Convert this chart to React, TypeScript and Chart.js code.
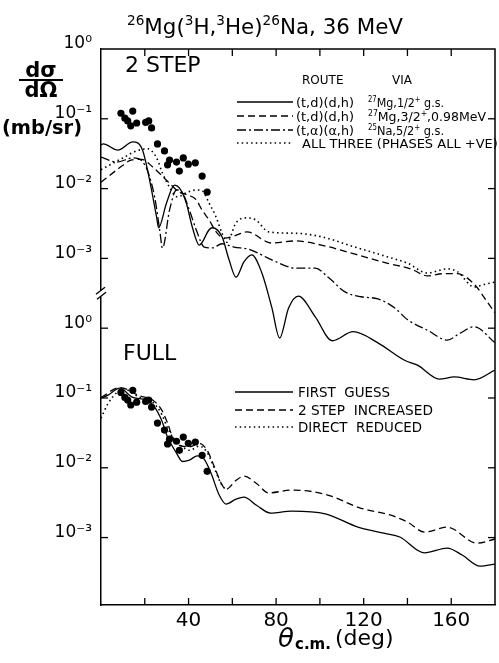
import React, { useEffect, useRef } from "react";
import { Chart, registerables } from "chart.js";

Chart.register(...registerables);

// ---------- experimental data (same points shown in both panels) ----------
const expAngle = [9.1, 10.9, 12.2, 13.6, 14.5, 16.3, 20.4, 21.8, 23.1, 25.8, 29.0, 30.4, 31.3, 34.5, 35.8, 37.6, 39.9, 43.1, 46.2, 48.5];
const expSigma = [0.12, 0.102, 0.0933, 0.0794, 0.129, 0.0871, 0.0891, 0.0933, 0.0741, 0.0437, 0.0347, 0.0219, 0.0257, 0.024, 0.0178, 0.0275, 0.0224, 0.0234, 0.0151, 0.00891];

// ---------- top panel "2 STEP" ----------
const gsAngle = [0, 1, 7.7, 14.5, 19, 22.2, 25.4, 26.3, 29.9, 33.6, 35.8, 39, 41.7, 44.9, 49.4, 50.8, 55.3, 58.5, 61.7, 65.3, 68.9, 73.5, 78, 81.6, 85.7, 90.2, 97.9, 105.6, 115.2, 126.5, 138.7, 144.6, 154.6, 161.4, 170.5, 180];
const gsSigma = [0.0422, 0.0437, 0.0355, 0.0468, 0.0355, 0.0132, 0.00389, 0.00275, 0.00617, 0.0112, 0.0102, 0.00617, 0.00282, 0.00155, 0.00257, 0.00275, 0.00204, 0.000955, 0.000537, 0.000891, 0.00112, 0.000617, 0.0002, 0.0000724, 0.000195, 0.000288, 0.000145, 0.0000661, 0.0000891, 0.0000617, 0.0000347, 0.0000295, 0.0000186, 0.00002, 0.0000182, 0.0000251];

const exAngle = [0, 7.3, 14.1, 18.6, 23.6, 29.9, 35.8, 40.4, 43.5, 46.2, 49.4, 52.6, 56.2, 60.8, 66.7, 78, 88.9, 100.7, 116.1, 131, 141.5, 149.2, 156, 162.8, 170.5, 176.4, 180];
const exSigma = [0.0123, 0.0186, 0.0257, 0.0263, 0.0204, 0.0132, 0.00891, 0.00794, 0.00692, 0.0049, 0.00355, 0.0024, 0.00195, 0.00209, 0.0024, 0.00166, 0.00178, 0.00155, 0.00115, 0.000851, 0.000708, 0.000562, 0.000603, 0.000603, 0.000427, 0.00024, 0.000166];

const naAngle = [0, 7.3, 14.5, 20, 24.5, 26.8, 28.1, 31.3, 34.5, 37.2, 40.4, 43.5, 47.2, 50.8, 55.3, 60.8, 67.6, 78, 88.9, 97.9, 103.8, 111.5, 118.8, 126.5, 134.2, 140.1, 149.2, 158.2, 164.1, 170.5, 180];
const naSigma = [0.0282, 0.024, 0.0275, 0.0219, 0.00759, 0.00257, 0.00141, 0.0049, 0.00955, 0.00871, 0.0049, 0.00257, 0.00145, 0.00141, 0.00162, 0.00145, 0.00135, 0.000955, 0.000724, 0.000724, 0.000537, 0.000331, 0.000282, 0.000263, 0.000195, 0.000132, 0.0000933, 0.0000676, 0.0000851, 0.000105, 0.0000617];

const allAngle = [0, 1.8, 10, 16.3, 21.3, 25.4, 28.1, 31.3, 34.9, 39, 43.5, 46.2, 49.4, 52.6, 55.3, 57.6, 61.7, 66.2, 70.7, 76.6, 88.9, 100.7, 116.1, 131, 140.1, 149.2, 158.2, 162.8, 170.5, 175.5, 180];
const allSigma = [0.0186, 0.02, 0.0275, 0.0347, 0.0372, 0.0275, 0.0166, 0.0105, 0.00759, 0.00871, 0.00955, 0.00933, 0.00617, 0.00389, 0.00229, 0.0017, 0.00324, 0.0038, 0.00355, 0.0024, 0.00229, 0.00204, 0.00145, 0.00105, 0.000851, 0.000617, 0.000708, 0.000646, 0.000389, 0.000427, 0.000457];

// ---------- bottom panel "FULL" ----------
const fgAngle = [0, 3.2, 8.6, 14.5, 20.9, 24.5, 27.7, 30.4, 34.5, 37.2, 40.4, 44, 47.2, 50.3, 54, 57.1, 61.7, 65.3, 71.2, 77.5, 87.1, 102.5, 117.4, 129.7, 136.5, 147.8, 158.2, 165, 173.2, 180];
const fgSigma = [0.1, 0.11, 0.138, 0.102, 0.0933, 0.0741, 0.0479, 0.0275, 0.0162, 0.0123, 0.0129, 0.0148, 0.0132, 0.00832, 0.00407, 0.00302, 0.00355, 0.0038, 0.00288, 0.00224, 0.0024, 0.00219, 0.00141, 0.00115, 0.00102, 0.000603, 0.000708, 0.000562, 0.000389, 0.000417];

const tsAngle = [0, 8.6, 17.7, 23.6, 27.7, 30.4, 32.6, 35.8, 40.4, 44.9, 48.5, 51.7, 54.9, 57.1, 61.7, 65.3, 71.2, 76.6, 87.1, 102.5, 118.8, 132.4, 140.1, 147.8, 158.2, 171.8, 180];
const tsSigma = [0.102, 0.141, 0.107, 0.0933, 0.0676, 0.0437, 0.0282, 0.0209, 0.02, 0.0224, 0.0178, 0.0105, 0.00603, 0.0049, 0.00661, 0.00759, 0.00589, 0.00437, 0.00479, 0.00417, 0.00263, 0.00209, 0.00166, 0.0012, 0.00141, 0.000832, 0.000955];

const drAngle = [0, 3.2, 7.3, 9.9, 17.7, 23.6, 27.7, 30.4, 33.6, 37.2, 40.4, 44.9, 48.5, 51.7, 54.9, 57.1];
const drSigma = [0.0513, 0.0832, 0.12, 0.135, 0.102, 0.0871, 0.0589, 0.0372, 0.0251, 0.02, 0.0178, 0.0204, 0.0166, 0.01, 0.00589, 0.00479];

// ---------- ticks ----------
const xTickLabels = [40, 80, 120, 160];
const xTickMarks = [20, 40, 60, 80, 100, 120, 140, 160];
const yTickExponents = [0, -1, -2, -3];
const PANEL_SHIFT = 4; // decades between the two stacked panels

// ---------- styles ----------
const FONT = '"DejaVu Sans", sans-serif';
const SOLID: number[] = [];
const DASH = [7, 4];
const DASHDOT = [9, 3, 2, 3];
const DOT = [1.5, 3.2];

const SUP: Record<string, string> = { "0": "⁰", "1": "¹", "2": "²", "3": "³", "4": "⁴", "-": "⁻" };
const sup = (n: number) => String(n).split("").map((c) => SUP[c] || c).join("");

const zip = (a: number[], b: number[]) => a.map((x, i) => ({ x, y: b[i] }));

function drawRich(ctx: any, parts: [string, boolean][], x: number, y: number, size: number, align: string, weight = "normal", maxW?: number) {
  const sz = Math.round(size * 0.62);
  let w = 0;
  const widths: number[] = [];
  for (const [t, s] of parts) {
    ctx.font = `${weight} ${s ? sz : size}px ${FONT}`;
    const m = ctx.measureText(t).width;
    widths.push(m);
    w += m;
  }
  const scale = maxW && w > maxW ? maxW / w : 1;
  let cx = align === "center" ? x - (w * scale) / 2 : x;
  ctx.textAlign = "left";
  ctx.textBaseline = "alphabetic";
  parts.forEach(([t, s], i) => {
    ctx.font = `${weight} ${s ? sz : size}px ${FONT}`;
    ctx.fillText(t, cx, s ? y - size * 0.4 : y, widths[i] * scale);
    cx += widths[i] * scale;
  });
}

function line(ctx: any, x1: number, y1: number, x2: number, y2: number, dash: number[], lw = 1.3) {
  ctx.save();
  ctx.setLineDash(dash);
  ctx.lineWidth = lw;
  ctx.beginPath();
  ctx.moveTo(x1, y1);
  ctx.lineTo(x2, y2);
  ctx.stroke();
  ctx.restore();
}

const decor = {
  id: "decor",
  afterDraw(chart: any) {
    const { ctx, chartArea: a, scales } = chart;
    const xs = scales.x, ys = scales.y, ys2 = scales.y2;
    ctx.save();
    ctx.strokeStyle = "#000";
    ctx.fillStyle = "#000";
    // frame (top & right)
    ctx.lineWidth = 1.5;
    ctx.beginPath();
    ctx.moveTo(a.left, a.top);
    ctx.lineTo(a.right, a.top);
    ctx.lineTo(a.right, a.bottom);
    ctx.stroke();
    // inward x ticks
    ctx.lineWidth = 1.3;
    for (const v of xTickMarks) {
      const px = xs.getPixelForValue(v);
      line(ctx, px, a.top, px, a.top + 7, SOLID);
      line(ctx, px, a.bottom, px, a.bottom - 7, SOLID);
    }
    // inward y ticks (both panels)
    for (const e of yTickExponents) {
      const p1 = ys.getPixelForValue(Math.pow(10, e));
      if (e < 0) {
        line(ctx, a.left, p1, a.left + 7, p1, SOLID);
        line(ctx, a.right, p1, a.right - 7, p1, SOLID);
      }
      const p2 = ys2.getPixelForValue(Math.pow(10, e));
      line(ctx, a.left, p2, a.left + 7, p2, SOLID);
      line(ctx, a.right, p2, a.right - 7, p2, SOLID);
    }
    // axis break
    const by = (ys.getPixelForValue(1e-3) + ys2.getPixelForValue(1)) / 2;
    ctx.fillStyle = "#fff";
    ctx.fillRect(a.left - 2, by - 3, 4, 6);
    ctx.fillStyle = "#000";
    line(ctx, a.left - 5, by + 1, a.left + 4, by - 6, SOLID, 1.4);
    line(ctx, a.left - 4, by + 6, a.left + 5, by - 1, SOLID, 1.4);

    // title
    drawRich(ctx, [["26", true], ["Mg(", false], ["3", true], ["H,", false], ["3", true], ["He)", false], ["26", true], ["Na, 36 MeV", false]], 265, 34, 22, "center", "normal", 276);

    // y-axis title
    ctx.textAlign = "center";
    ctx.textBaseline = "alphabetic";
    ctx.font = `bold 21px ${FONT}`;
    ctx.fillText("dσ", 41, 77);
    ctx.fillText("dΩ", 41, 97);
    line(ctx, 19, 80, 63, 80, SOLID, 2);
    ctx.font = `bold 20px ${FONT}`;
    ctx.fillText("(mb/sr)", 42, 134, 80);

    // x-axis title
    ctx.textAlign = "left";
    ctx.font = `italic 26px ${FONT}`;
    ctx.fillText("θ", 278, 647);
    ctx.font = `bold 15px ${FONT}`;
    ctx.fillText("c.m.", 295, 649, 38);
    ctx.font = `22px ${FONT}`;
    ctx.fillText("(deg)", 335, 645, 66);

    // panel labels
    ctx.font = `22px ${FONT}`;
    ctx.fillText("2 STEP", 125, 72, 78);
    ctx.fillText("FULL", 123, 360, 60);

    // top legend
    ctx.font = `12px ${FONT}`;
    ctx.fillText("ROUTE", 302, 84, 44);
    ctx.fillText("VIA", 392, 84, 21);
    const rows: [number[], string, [string, boolean][]][] = [
      [SOLID, "(t,d)(d,h)", [["27", true], ["Mg,1/2", false], ["+", true], [" g.s.", false]]],
      [DASH, "(t,d)(d,h)", [["27", true], ["Mg,3/2", false], ["+", true], [",0.98MeV", false]]],
      [DASHDOT, "(t,α)(α,h)", [["25", true], ["Na,5/2", false], ["+", true], [" g.s.", false]]],
    ];
    const rowY = [102, 116, 130];
    rows.forEach(([dash, route, via], i) => {
      const y = rowY[i];
      line(ctx, 237, y, 293, y, dash, 1.3);
      ctx.font = `13px ${FONT}`;
      ctx.textAlign = "left";
      ctx.fillText(route, 296, y + 5, 58);
      drawRich(ctx, via, 368, y + 5, 13, "left", "normal", i === 1 ? 118 : 76);
    });
    line(ctx, 237, 143, 293, 143, DOT, 1.5);
    ctx.font = `13px ${FONT}`;
    ctx.fillText("ALL THREE (PHASES ALL +VE)", 302, 148, 196);

    // bottom legend
    const rows2: [number[], string, number, number][] = [
      [SOLID, "FIRST  GUESS", 392, 92],
      [DASH, "2 STEP  INCREASED", 410, 135],
      [DOT, "DIRECT  REDUCED", 427, 124],
    ];
    for (const [dash, label, y, w] of rows2) {
      line(ctx, 235, y, 293, y, dash, dash === DOT ? 1.5 : 1.3);
      ctx.font = `14px ${FONT}`;
      ctx.fillText(label, 298, y + 5, w);
    }
    ctx.restore();
  },
};

export default function App() {
  const ref = useRef<HTMLCanvasElement>(null);
  useEffect(() => {
    const lineDs = (data: any[], dash: number[], axis: string, width = 1.3) => ({
      type: "line",
      data,
      yAxisID: axis,
      borderColor: "#000",
      borderWidth: width,
      borderDash: dash,
      pointRadius: 0,
      fill: false,
      cubicInterpolationMode: "monotone",
    });
    const pointsDs = (axis: string) => ({
      type: "scatter",
      data: zip(expAngle, expSigma),
      yAxisID: axis,
      showLine: false,
      pointRadius: 3.6,
      pointBackgroundColor: "#000",
      pointBorderColor: "#000",
      pointBorderWidth: 0,
    });
    const chart = new Chart(ref.current as HTMLCanvasElement, {
      type: "line",
      data: {
        datasets: [
          lineDs(zip(gsAngle, gsSigma), SOLID, "y"),
          lineDs(zip(exAngle, exSigma), DASH, "y"),
          lineDs(zip(naAngle, naSigma), DASHDOT, "y"),
          lineDs(zip(allAngle, allSigma), DOT, "y", 1.6),
          pointsDs("y"),
          lineDs(zip(fgAngle, fgSigma), SOLID, "y2"),
          lineDs(zip(tsAngle, tsSigma), DASH, "y2"),
          lineDs(zip(drAngle, drSigma), DOT, "y2", 1.6),
          pointsDs("y2"),
        ] as any,
      },
      options: {
        animation: false,
        responsive: false,
        events: [],
        layout: { padding: { top: 49, right: 1, left: 0, bottom: 0 } },
        plugins: { legend: { display: false }, tooltip: { enabled: false }, title: { display: false } },
        scales: {
          x: {
            type: "linear",
            min: 0,
            max: 180,
            position: "bottom",
            afterBuildTicks: (s: any) => {
              s.ticks = xTickLabels.map((v) => ({ value: v }));
            },
            afterFit: (s: any) => {
              s.height = 58;
            },
            ticks: { color: "#000", font: { family: FONT, size: 20 }, padding: 4, maxRotation: 0, autoSkip: false, callback: (v: any) => String(v) },
            grid: { display: false, drawTicks: false },
            border: { display: true, color: "#000", width: 1.5 },
          },
          y: {
            type: "logarithmic",
            position: "left",
            min: Math.pow(10, -7.966),
            max: 1,
            afterBuildTicks: (s: any) => {
              const vals: any[] = [];
              for (const e of yTickExponents) vals.push({ value: Math.pow(10, e) });
              for (const e of yTickExponents) vals.push({ value: Math.pow(10, e - PANEL_SHIFT) });
              s.ticks = vals;
            },
            afterFit: (s: any) => {
              s.width = 101;
            },
            ticks: {
              color: "#000",
              font: { family: FONT, size: 17 },
              padding: 9,
              labelOffset: -5,
              autoSkip: false,
              callback: (v: any) => {
                const e = Math.round(Math.log10(v));
                const pe = e >= -3 ? e : e + PANEL_SHIFT;
                return "10" + sup(pe);
              },
            },
            grid: { display: false, drawTicks: false },
            border: { display: true, color: "#000", width: 1.5 },
          },
          y2: {
            type: "logarithmic",
            display: false,
            min: Math.pow(10, -7.966 + PANEL_SHIFT),
            max: Math.pow(10, PANEL_SHIFT),
          },
        },
      } as any,
      plugins: [decor],
    });
    return () => chart.destroy();
  }, []);
  return (
    <div style={{ position: "absolute", left: 0, top: 0, width: 499, height: 663, background: "#fff" }}>
      <canvas ref={ref} width={499} height={663} style={{ display: "block" }} />
    </div>
  );
}
